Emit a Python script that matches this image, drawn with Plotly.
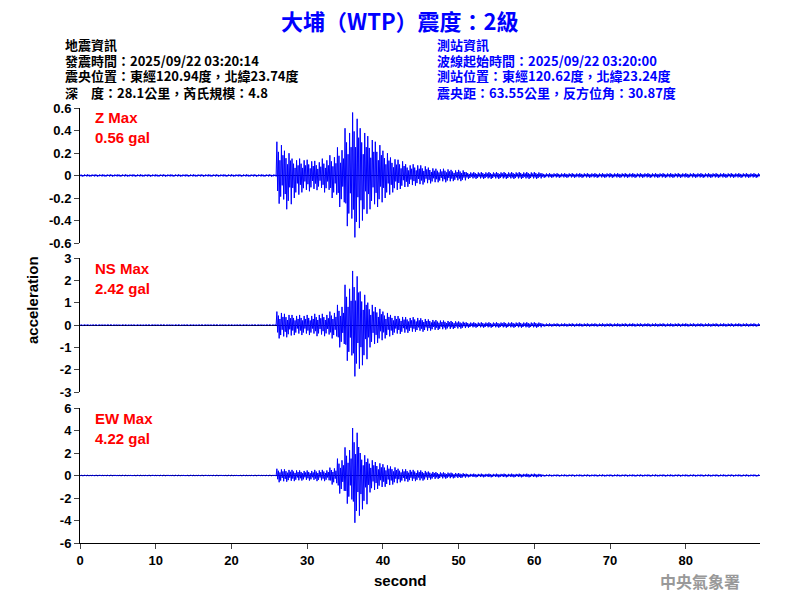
import numpy as np
import plotly.graph_objects as go
from plotly.subplots import make_subplots

# seconds 0..89, per-second peak envelope (pos, neg)
sec = list(range(90))
quiet_z = [0.01] * 26
z_pos = quiet_z + [0.30, 0.22, 0.15, 0.15, 0.14, 0.13, 0.15, 0.18, 0.25, 0.42, 0.56, 0.42, 0.35, 0.30, 0.22,
                   0.16, 0.14, 0.10, 0.10, 0.09, 0.07, 0.06, 0.06, 0.05, 0.05] + [0.03] * 10 + [0.02] * 29
z_neg = quiet_z + [0.25, 0.30, 0.20, 0.15, 0.14, 0.13, 0.15, 0.20, 0.28, 0.45, 0.55, 0.40, 0.30, 0.28, 0.20,
                   0.15, 0.12, 0.10, 0.09, 0.08, 0.07, 0.06, 0.06, 0.05, 0.05] + [0.03] * 10 + [0.02] * 29
quiet_ns = [0.02] * 26
ns_pos = quiet_ns + [0.60, 0.50, 0.45, 0.45, 0.45, 0.50, 0.50, 0.60, 0.90, 1.80, 2.42, 1.50, 1.00, 0.80, 0.60,
                     0.45, 0.40, 0.35, 0.35, 0.30, 0.25, 0.22, 0.20, 0.18, 0.16] + [0.12] * 10 + [0.07] * 29
ns_neg = quiet_ns + [0.60, 0.55, 0.45, 0.45, 0.45, 0.50, 0.50, 0.60, 1.00, 1.60, 2.30, 1.80, 1.00, 0.80, 0.60,
                     0.45, 0.40, 0.35, 0.30, 0.30, 0.25, 0.22, 0.20, 0.18, 0.16] + [0.12] * 10 + [0.07] * 29
quiet_ew = [0.03] * 26
ew_pos = quiet_ew + [0.60, 0.55, 0.50, 0.45, 0.45, 0.50, 0.50, 0.70, 1.50, 2.50, 4.22, 2.00, 1.50, 1.20, 1.00,
                     0.80, 0.60, 0.55, 0.50, 0.45, 0.35, 0.30, 0.28, 0.25, 0.22] + [0.16] * 10 + [0.09] * 29
ew_neg = quiet_ew + [0.60, 0.55, 0.50, 0.45, 0.45, 0.50, 0.50, 0.80, 1.60, 2.50, 4.20, 3.00, 1.50, 1.20, 1.00,
                     0.80, 0.60, 0.55, 0.50, 0.45, 0.35, 0.30, 0.28, 0.25, 0.22] + [0.16] * 10 + [0.09] * 29

channels = ["Z", "NS", "EW"]
max_gal = [0.56, 2.42, 4.22]
y_ranges = [[-0.6, 0.6], [-3, 3], [-6, 6]]
y_ticks = [[-0.6, -0.4, -0.2, 0, 0.2, 0.4, 0.6], [-3, -2, -1, 0, 1, 2, 3], [-6, -4, -2, 0, 2, 4, 6]]
x_ticks = [0, 10, 20, 30, 40, 50, 60, 70, 80]

# wiggle shape inside each second (drawing style only)
wiggle = [1.0, -0.55, 0.7, -1.0, 0.45, -0.75, 0.9, -0.35, 0.6, -0.85]

OFF = 8  # page body margin


def px(x):
    return (x - OFF) / 800


def py(y):
    return 1 - (y - OFF) / 600


fig = make_subplots(rows=3, cols=1)
panel_px = [(108, 243), (258, 392), (408, 543)]
envs = [(z_pos, z_neg), (ns_pos, ns_neg), (ew_pos, ew_neg)]
for i, (p, n) in enumerate(envs):
    xs, ys = [], []
    for t, a, b in zip(sec, p, n):
        for k, w in enumerate(wiggle):
            xs.append(t + k / len(wiggle))
            ys.append(a * w if w > 0 else b * w)
    fig.add_trace(go.Scatter(x=xs, y=ys, mode="lines", line=dict(color="blue", width=1),
                             showlegend=False), row=i + 1, col=1)
    top, bot = panel_px[i]
    fig.update_yaxes(range=y_ranges[i], tickvals=y_ticks[i], ticktext=[f"<b>{v:g}</b>" for v in y_ticks[i]],
                     domain=[py(bot), py(top)], showline=True, linecolor="black", ticks="outside", ticklen=5,
                     showgrid=False, zeroline=True, zerolinecolor="black", zerolinewidth=1,
                     automargin=False, tickfont=dict(size=13, color="black"), row=i + 1, col=1)
    fig.update_xaxes(range=[0, 89.8], domain=[px(80), px(760)], showgrid=False, zeroline=False,
                     showline=(i == 2), linecolor="black", ticks="outside" if i == 2 else "",
                     tickvals=x_ticks, ticktext=[f"<b>{v}</b>" for v in x_ticks],
                     showticklabels=(i == 2), automargin=False,
                     tickfont=dict(size=13, color="black"), row=i + 1, col=1)
    fig.add_annotation(xref="paper", yref="paper", x=px(93), y=py(128 + i * 150),
                       text=f"<b>{channels[i]} Max<br>{max_gal[i]:.2f} gal</b>", showarrow=False,
                       xanchor="left", yanchor="middle", align="left",
                       font=dict(size=15, color="red"))

cjk = "Noto Sans CJK TC"


def note(x, y, text, size, color, family=None, xanchor="center", angle=0):
    fig.add_annotation(xref="paper", yref="paper", x=px(x), y=py(y), showarrow=False,
                       xanchor=xanchor, yanchor="middle", textangle=angle, text=text,
                       font=dict(size=size, color=color, family=family))


note(400, 580, "<b>second</b>", 15, "black")
note(400, 20, "<b>大埔（WTP）震度：2級</b>", 22, "blue", cjk)
left_info = ["地震資訊", "發震時間：2025/09/22 03:20:14", "震央位置：東經120.94度，北緯23.74度",
             "深　度：28.1公里，芮氏規模：4.8"]
right_info = ["測站資訊", "波線起始時間：2025/09/22 03:20:00", "測站位置：東經120.62度，北緯23.24度",
              "震央距：63.55公里，反方位角：30.87度"]
for k, (lt, rt) in enumerate(zip(left_info, right_info)):
    yy = 44 + 16 * k
    note(63, yy, f"<b>{lt}</b>", 13, "black", cjk, "left")
    note(435, yy, f"<b>{rt}</b>", 13, "blue", cjk, "left")
note(32, 300, "<b>acceleration</b>", 15, "black", angle=-90)
note(700, 581, "<b>中央氣象署</b>", 16, "#999999", cjk)

fig.update_layout(width=800, height=600, margin=dict(l=0, r=0, t=0, b=0, autoexpand=False),
                  paper_bgcolor="white", plot_bgcolor="white",
                  font=dict(family="Liberation Sans", color="black"))
fig.write_html("out.html")
